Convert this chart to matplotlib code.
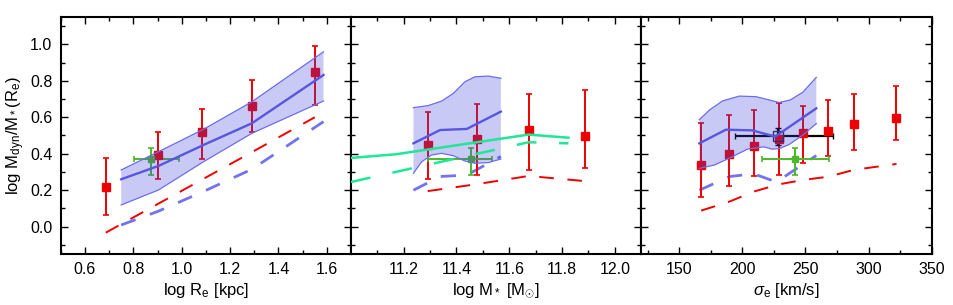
import matplotlib
matplotlib.use("Agg")
import matplotlib.pyplot as plt
from matplotlib.ticker import MultipleLocator, FixedLocator, FormatStrFormatter

plt.rcParams['font.family'] = ['Liberation Sans', 'DejaVu Sans']
plt.rcParams['mathtext.fontset'] = 'custom'
plt.rcParams['mathtext.rm'] = 'Liberation Sans'
plt.rcParams['mathtext.it'] = 'Liberation Sans:italic'
plt.rcParams['mathtext.bf'] = 'Liberation Sans:bold'

# ---------------- Panel 1: log Re ----------------
re_red_x = [0.686, 0.902, 1.084, 1.292, 1.550]
re_red_y = [0.216, 0.391, 0.519, 0.662, 0.848]
re_red_lo = [0.064, 0.260, 0.369, 0.521, 0.665]
re_red_hi = [0.375, 0.519, 0.645, 0.803, 0.993]
re_band_x = [0.75, 0.904, 1.09, 1.29, 1.586]
re_band_med = [0.260, 0.333, 0.448, 0.567, 0.832]
re_band_lo = [0.119, 0.201, 0.356, 0.512, 0.689]
re_band_hi = [0.311, 0.411, 0.534, 0.685, 0.959]
re_dash_blue = [0.009, 0.085, 0.193, 0.315, 0.576]
re_dash_red = [-0.033, 0.125, 0.258, 0.410, 0.600]
re_green_x, re_green_xlo, re_green_xhi = 0.873, 0.804, 0.989
re_ticks = [0.6, 0.8, 1.0, 1.2, 1.4, 1.6]

# ---------------- Panel 2: log M* ----------------
ms_red_x = [11.291, 11.477, 11.673, 11.885]
ms_red_y = [0.448, 0.483, 0.532, 0.499]
ms_red_lo = [0.261, 0.285, 0.311, 0.322]
ms_red_hi = [0.629, 0.675, 0.728, 0.751]
ms_band_hi_x = [11.237, 11.293, 11.344, 11.388, 11.432, 11.470, 11.520, 11.568]
ms_band_hi = [0.653, 0.664, 0.689, 0.731, 0.795, 0.822, 0.826, 0.814]
ms_band_lo_x = [11.237, 11.268, 11.306, 11.344, 11.388, 11.432, 11.470, 11.520, 11.568]
ms_band_lo = [0.293, 0.356, 0.393, 0.402, 0.389, 0.360, 0.348, 0.351, 0.371]
ms_med_x = [11.237, 11.338, 11.439, 11.568]
ms_med = [0.457, 0.530, 0.536, 0.631]
ms_dash_blue = [0.200, 0.275, 0.283, 0.385]
ms_dash_red = [0.195, 0.233, 0.278, 0.250]
ms_gline_x = [11.0, 11.17, 11.673, 11.824]
ms_gline = [0.377, 0.397, 0.505, 0.488]
ms_gdash_x = [11.0, 11.673, 11.824]
ms_gdash = [0.245, 0.463, 0.457]
ms_green_x, ms_green_xlo, ms_green_xhi = 11.455, 11.293, 11.536
ms_ticks = [11.2, 11.4, 11.6, 11.8, 12.0]
ms_minor = [11.1, 11.3, 11.5, 11.7, 11.9]

# ---------------- Panel 3: sigma_e ----------------
sig_red_x = [167.4, 189.7, 208.9, 228.9, 248.1, 268.1, 288.1, 322.1]
sig_red_y = [0.340, 0.399, 0.442, 0.483, 0.512, 0.525, 0.563, 0.596]
sig_red_lo = [0.165, 0.221, 0.276, 0.285, 0.347, 0.388, 0.422, 0.475]
sig_red_hi = [0.570, 0.614, 0.640, 0.676, 0.662, 0.696, 0.728, 0.770]
sig_band_hi_x = [166.0, 174.0, 184.4, 197.6, 210.8, 221.3, 229.2, 238.0, 248.0, 258.6]
sig_band_hi = [0.587, 0.640, 0.690, 0.716, 0.713, 0.695, 0.681, 0.695, 0.738, 0.819]
sig_band_lo_x = [166.0, 178.0, 191.0, 204.0, 217.0, 223.5, 229.2, 237.0, 248.0, 258.6]
sig_band_lo = [0.320, 0.338, 0.380, 0.425, 0.438, 0.425, 0.428, 0.450, 0.503, 0.565]
sig_med_x = [166.0, 187.0, 208.0, 226.0, 258.6]
sig_med = [0.457, 0.532, 0.528, 0.494, 0.649]
sig_dash_blue_x = [166.0, 190.0, 209.0, 227.0, 258.6]
sig_dash_blue = [0.200, 0.275, 0.290, 0.245, 0.390]
sig_dash_red = [0.088, 0.137, 0.192, 0.232, 0.256, 0.274, 0.311, 0.344]
sig_green_x, sig_green_xlo, sig_green_xhi = 241.7, 215.5, 268.6
sig_black_x, sig_black_xlo, sig_black_xhi = 228.4, 194.4, 271.8
sig_black_y, sig_black_ylo, sig_black_yhi = 0.498, 0.448, 0.541
sig_ticks = [150, 200, 250, 300, 350]

# shared green point
green_y, green_ylo, green_yhi = 0.369, 0.281, 0.433
y_ticks = [0.0, 0.2, 0.4, 0.6, 0.8, 1.0]

RED = '#ee0000'
GREEN = '#4cb82a'
SPRING = '#1ee896'
BAND = '#4040e0'
EDGE = '#6d6dea'
MED = '#5656e0'
DBLUE = '#7373ee'

W, H = 954, 305
fig = plt.figure(figsize=(W / 100, H / 100), dpi=100)
bottom = 1 - 254 / H
height = (254 - 17) / H
lefts = [60.7, 350.9, 641.3]
width = 290.4
axes = [fig.add_axes([l / W, bottom, width / W, height]) for l in lefts]

dash_red = (0, (7.5, 7.0))
dash_blue = (0, (5.5, 5.5))


def red_points(ax, x, y, lo, hi):
    yerr = [[v - l for v, l in zip(y, lo)], [h - v for v, h in zip(y, hi)]]
    ax.errorbar(x, y, yerr=yerr, fmt='s', color=RED, ms=6.2, elinewidth=1.4,
                capsize=2.2, capthick=1.2, zorder=3)


def green_point(ax, x, xlo, xhi):
    ax.errorbar([x], [green_y], xerr=[[x - xlo], [xhi - x]],
                yerr=[[green_y - green_ylo], [green_yhi - green_y]],
                fmt='s', color=GREEN, ms=5.0, elinewidth=1.4, capsize=2.0,
                capthick=1.2, zorder=3)


def band(ax, xh, hi, xl, lo, xm, med):
    ax.fill(list(xh) + list(xl)[::-1], list(hi) + list(lo)[::-1],
            color=BAND, alpha=0.28, lw=0, zorder=4)
    ax.plot(xh, hi, color=EDGE, lw=0.9, zorder=5)
    ax.plot(xl, lo, color=EDGE, lw=0.9, zorder=5)
    ax.plot(xm, med, color=MED, lw=1.7, zorder=5)


# Panel 1
ax = axes[0]
ax.plot(re_red_x, re_dash_red, color=RED, lw=1.4, ls=dash_red, zorder=2)
ax.plot(re_band_x, re_dash_blue, color=DBLUE, lw=2.0, ls=dash_blue, zorder=2)
red_points(ax, re_red_x, re_red_y, re_red_lo, re_red_hi)
green_point(ax, re_green_x, re_green_xlo, re_green_xhi)
band(ax, re_band_x, re_band_hi, re_band_x, re_band_lo, re_band_x, re_band_med)
ax.set_xlim(0.5, 1.7)
ax.xaxis.set_major_locator(FixedLocator(re_ticks))
ax.xaxis.set_minor_locator(MultipleLocator(0.1))
ax.xaxis.set_major_formatter(FormatStrFormatter('%.1f'))
ax.set_xlabel(r'log R$_{\rm e}$ [kpc]', fontsize=12, labelpad=3)
ax.set_ylabel(r'log M$_{\rm dyn}$/M$_*$(R$_{\rm e}$)', fontsize=12, labelpad=2)

# Panel 2
ax = axes[1]
ax.plot(ms_red_x, ms_dash_red, color=RED, lw=1.4, ls=dash_red, zorder=2)
ax.plot(ms_med_x, ms_dash_blue, color=DBLUE, lw=2.0, ls=dash_blue, zorder=2)
red_points(ax, ms_red_x, ms_red_y, ms_red_lo, ms_red_hi)
green_point(ax, ms_green_x, ms_green_xlo, ms_green_xhi)
band(ax, ms_band_hi_x, ms_band_hi, ms_band_lo_x, ms_band_lo, ms_med_x, ms_med)
ax.plot(ms_gline_x, ms_gline, color=SPRING, lw=1.8, zorder=6)
ax.plot(ms_gdash_x, ms_gdash, color=SPRING, lw=1.8, ls=(0, (8, 9)), zorder=6)
ax.set_xlim(11.0, 12.1)
ax.xaxis.set_major_locator(FixedLocator(ms_ticks))
ax.xaxis.set_minor_locator(FixedLocator(ms_minor))
ax.xaxis.set_major_formatter(FormatStrFormatter('%.1f'))
ax.set_xlabel(r'log M$_*$ [M$_{\odot}$]', fontsize=12, labelpad=3)

# Panel 3
ax = axes[2]
ax.plot(sig_red_x, sig_dash_red, color=RED, lw=1.4, ls=dash_red, zorder=2)
ax.plot(sig_dash_blue_x, sig_dash_blue, color=DBLUE, lw=2.0, ls=dash_blue, zorder=2)
red_points(ax, sig_red_x, sig_red_y, sig_red_lo, sig_red_hi)
green_point(ax, sig_green_x, sig_green_xlo, sig_green_xhi)
ax.errorbar([sig_black_x], [sig_black_y],
            xerr=[[sig_black_x - sig_black_xlo], [sig_black_xhi - sig_black_x]],
            yerr=[[sig_black_y - sig_black_ylo], [sig_black_yhi - sig_black_y]],
            fmt='s', color='black', mfc='none', mec='#2a2a40', mew=1.0, ms=7.5,
            elinewidth=1.6, capsize=2.0, capthick=1.2, zorder=3)
band(ax, sig_band_hi_x, sig_band_hi, sig_band_lo_x, sig_band_lo, sig_med_x, sig_med)
ax.set_xlim(120, 350)
ax.xaxis.set_major_locator(FixedLocator(sig_ticks))
ax.xaxis.set_minor_locator(MultipleLocator(25))
ax.set_xlabel(r'$\sigma_{\rm e}$ [km/s]', fontsize=12, labelpad=3)

for i, ax in enumerate(axes):
    ax.set_ylim(-0.15, 1.15)
    ax.yaxis.set_major_locator(FixedLocator(y_ticks))
    ax.yaxis.set_minor_locator(MultipleLocator(0.1))
    ax.tick_params(which='both', direction='in', top=True, right=True,
                   labelsize=11.5, width=1.0, pad=6)
    ax.tick_params(which='major', length=5)
    ax.tick_params(which='minor', length=3)
    for s in ax.spines.values():
        s.set_linewidth(1.5)
    if i > 0:
        ax.tick_params(labelleft=False)
    else:
        ax.yaxis.set_major_formatter(FormatStrFormatter('%.1f'))

fig.savefig('out.png', dpi=100)
